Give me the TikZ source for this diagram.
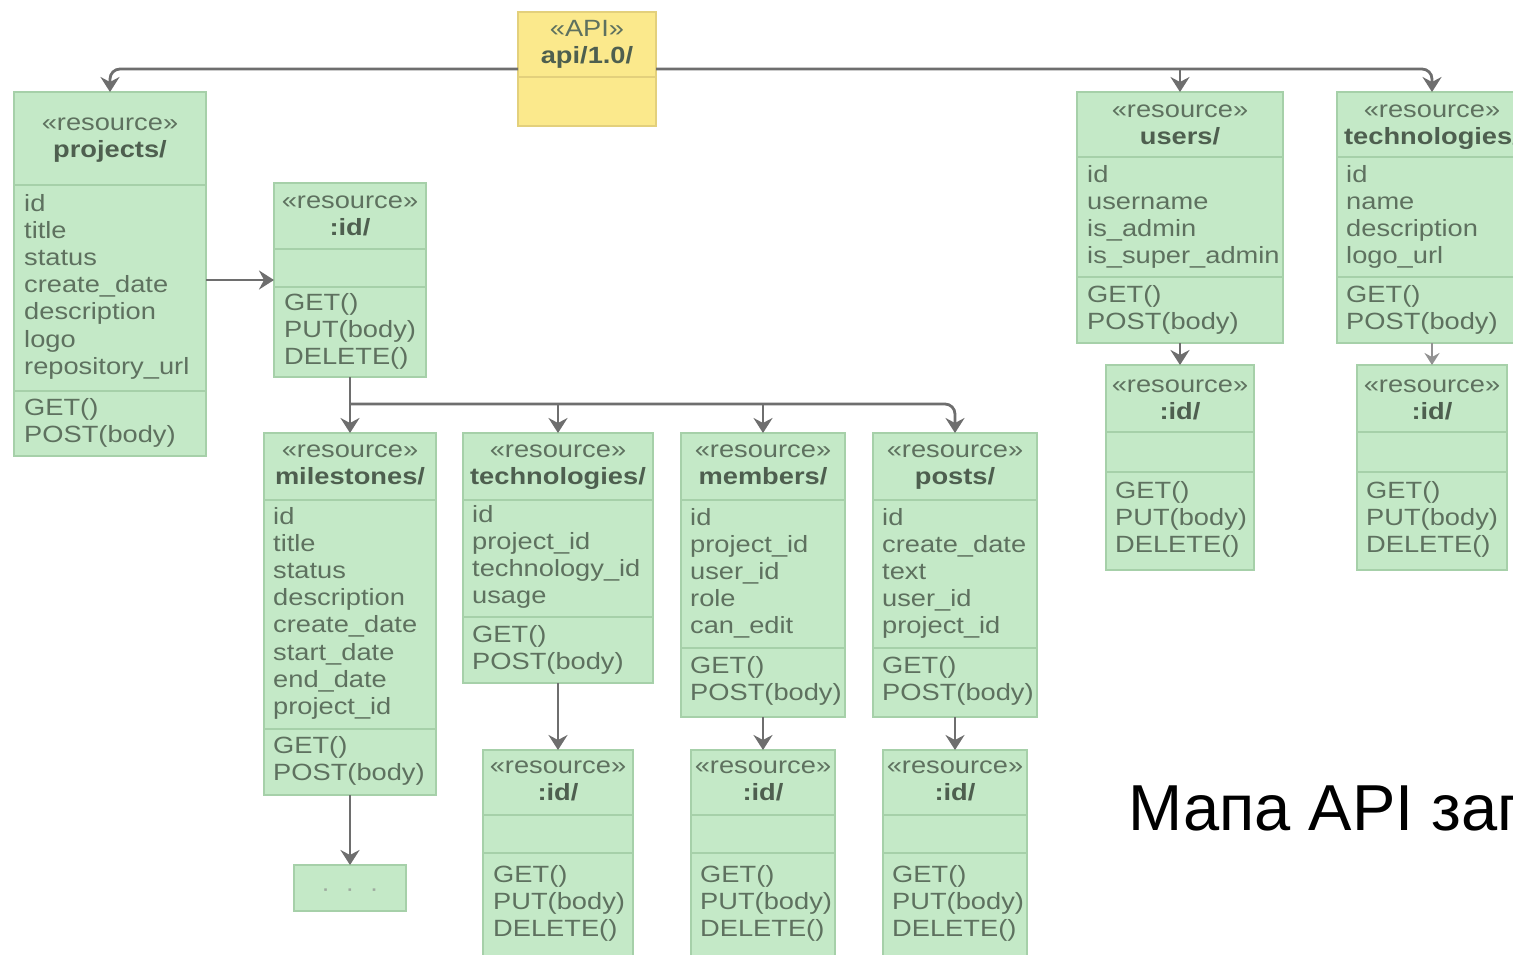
\documentclass[tikz,border=0pt]{standalone}
\usepackage{fontspec}
\setmainfont{Liberation Sans}[FakeStretch=1.16]
\newfontfamily\plainsans{Liberation Sans}
\usetikzlibrary{arrows.meta}

\definecolor{resfill}{HTML}{C4E9C7}
\definecolor{resline}{HTML}{A6D0A9}
\definecolor{restext}{HTML}{5E715F}
\definecolor{restitle}{HTML}{4E5F4F}
\definecolor{apifill}{HTML}{FBE98C}
\definecolor{apiline}{HTML}{E3D07C}
\definecolor{connline}{HTML}{6E6E6E}

\tikzset{
  resbox/.style={draw=resline, fill=resfill, line width=1.5pt, inner sep=0pt, outer sep=0pt, anchor=north west},
  apibox/.style={resbox, draw=apiline, fill=apifill},
  divline/.style={draw=resline, line width=1.5pt},
  txt/.style={inner sep=0pt, text=restext, font=\fontsize{23.5}{27}\selectfont, anchor=base west},
  stereo/.style={txt, anchor=base},
  ttl/.style={stereo, text=restitle, font=\fontsize{23.5}{27}\selectfont\bfseries},
  conn/.style={draw=connline, line width=2.8pt, rounded corners=10pt, -{Stealth[length=15pt,width=19pt,inset=5pt]}},
  thinconn/.style={conn, line width=2pt, draw=connline!75, -{Stealth[length=12pt,width=15pt,inset=4pt]}},
}

% name, x, top, width, height, first divider y, second divider y
\newcommand\resourcebox[7]{%
  \node[resbox, minimum width=#4, minimum height=#5] (#1) at (#2,#3) {};
  \draw[divline] (#2,#6) -- ++(#4,0) (#2,#7) -- ++(#4,0);}
% name, centre x, baseline, stereotype, title
\newcommand\heading[5]{%
  \node[stereo] (#1-st) at (#2,#3) {#4};
  \node[ttl] (#1-ti) at (#2,{#3+27.5}) {#5};}
% name, x, first baseline, entries
\newcommand\rows[4]{%
  \foreach \e [count=\i] in {#4} \node[txt] (#1-\i) at (#2,{#3+(\i-1)*27.2}) {\e};}

\begin{document}
\begin{tikzpicture}[x=1pt, y=-1pt]
\path[use as bounding box] (0,0) rectangle (1513,954);
\clip (0,0) rectangle (1513,954);
\fill[white] (0,0) rectangle (1513,954);

% API root
\node[apibox, minimum width=138, minimum height=114] (api) at (518,12) {};
\draw[divline, draw=apiline] (518,77) -- ++(138,0);
\node[stereo] (api-st) at (587,36) {«API»};
\node[ttl] (api-ti) at (587,63) {api/1.0/};

% projects/
\resourcebox{projects}{14}{92}{192}{364}{185}{391}
\heading{projects}{110}{130}{«resource»}{projects/}
\rows{projects-a}{24}{211}{id,title,status,create\_date,description,logo,repository\_url}
\rows{projects-m}{24}{415}{GET(),POST(body)}

% projects/:id/
\resourcebox{pid}{274}{183}{152}{194}{249}{287}
\heading{pid}{350}{208}{«resource»}{:id/}
\rows{pid-m}{284}{310}{GET(),PUT(body),DELETE()}

% milestones/
\resourcebox{miles}{264}{433}{172}{362}{500}{729}
\heading{miles}{350}{457}{«resource»}{milestones/}
\rows{miles-a}{273}{524}{id,title,status,description,create\_date,start\_date,end\_date,project\_id}
\rows{miles-m}{273}{753}{GET(),POST(body)}
\node[resbox, minimum width=112, minimum height=46] (dots) at (294,865) {};
\node[stereo, text=restext!60] (dots-t) at (350,896) {·\ \ ·\ \ ·};

% technologies/ of a project
\resourcebox{ptech}{463}{433}{190}{250}{500}{617}
\heading{ptech}{558}{457}{«resource»}{technologies/}
\rows{ptech-a}{472}{522}{id,project\_id,technology\_id,usage}
\rows{ptech-m}{472}{642}{GET(),POST(body)}
\resourcebox{ptechid}{483}{750}{150}{230}{815}{853}
\heading{ptechid}{558}{773}{«resource»}{:id/}
\rows{ptechid-m}{493}{882}{GET(),PUT(body),DELETE()}

% members/
\resourcebox{members}{681}{433}{164}{284}{500}{648}
\heading{members}{763}{457}{«resource»}{members/}
\rows{members-a}{690}{525}{id,project\_id,user\_id,role,can\_edit}
\rows{members-m}{690}{673}{GET(),POST(body)}
\resourcebox{memid}{691}{750}{144}{230}{815}{853}
\heading{memid}{763}{773}{«resource»}{:id/}
\rows{memid-m}{700}{882}{GET(),PUT(body),DELETE()}

% posts/
\resourcebox{posts}{873}{433}{164}{284}{500}{648}
\heading{posts}{955}{457}{«resource»}{posts/}
\rows{posts-a}{882}{525}{id,create\_date,text,user\_id,project\_id}
\rows{posts-m}{882}{673}{GET(),POST(body)}
\resourcebox{postid}{883}{750}{144}{230}{815}{853}
\heading{postid}{955}{773}{«resource»}{:id/}
\rows{postid-m}{892}{882}{GET(),PUT(body),DELETE()}

% users/
\resourcebox{users}{1077}{92}{206}{251}{157}{277}
\heading{users}{1180}{117}{«resource»}{users/}
\rows{users-a}{1087}{182}{id,username,is\_admin,is\_super\_admin}
\rows{users-m}{1087}{302}{GET(),POST(body)}
\resourcebox{userid}{1106}{365}{148}{205}{432}{472}
\heading{userid}{1180}{392}{«resource»}{:id/}
\rows{userid-m}{1115}{498}{GET(),PUT(body),DELETE()}

% technologies/
\resourcebox{tech}{1337}{92}{190}{251}{157}{277}
\heading{tech}{1432}{117}{«resource»}{technologies/}
\rows{tech-a}{1346}{182}{id,name,description,logo\_url}
\rows{tech-m}{1346}{302}{GET(),POST(body)}
\resourcebox{techid}{1357}{365}{150}{205}{432}{472}
\heading{techid}{1432}{392}{«resource»}{:id/}
\rows{techid-m}{1366}{498}{GET(),PUT(body),DELETE()}

% connectors
\draw[conn] (api.west) -| (projects.north);
\draw[conn] (api.east) -| (tech.north);
\draw[conn] (api.east -| users.north) -- (users.north);
\draw[conn] (projects.east |- pid.west) -- (pid.west);
\draw[conn] (pid.south) -- (miles.north);
\coordinate (fork) at (350,404);
\draw[conn] (fork) -| (posts.north);
\draw[conn] (fork -| ptech.north) -- (ptech.north);
\draw[conn] (fork -| members.north) -- (members.north);
\draw[conn] (miles.south) -- (dots.north);
\draw[conn] (ptech.south) -- (ptechid.north);
\draw[conn] (members.south) -- (memid.north);
\draw[conn] (posts.south) -- (postid.north);
\draw[conn] (users.south) -- (userid.north);
\draw[thinconn] (tech.south) -- (techid.north);

% caption
\node[anchor=base west, inner sep=0pt, font=\plainsans\fontsize{65}{70}\selectfont] (caption) at (1128,830) {Мапа API заг};
\end{tikzpicture}
\end{document}
